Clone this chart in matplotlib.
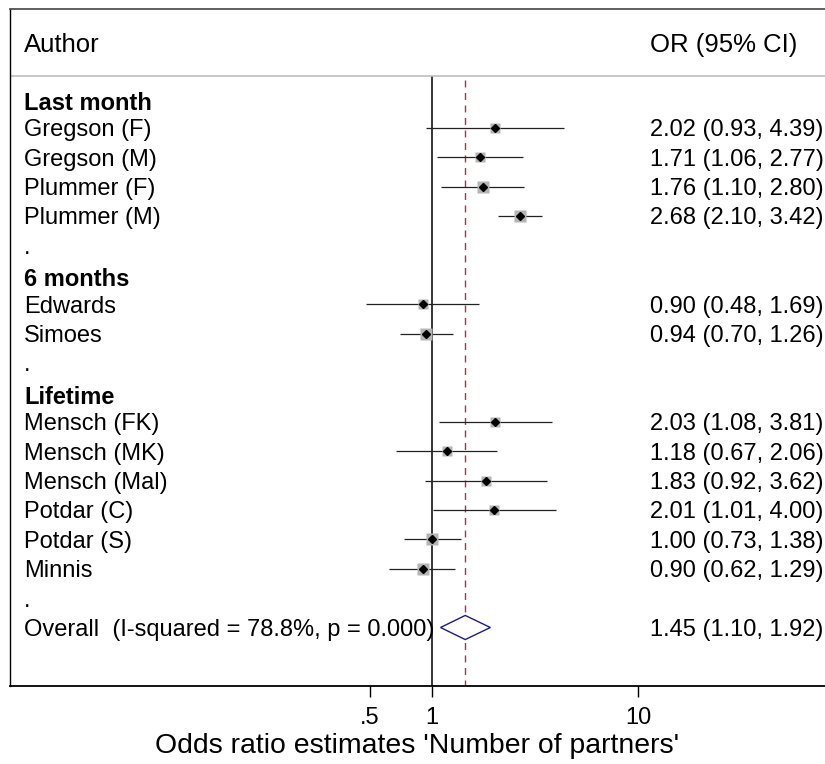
import matplotlib
matplotlib.use("Agg")
import matplotlib.pyplot as plt
import numpy as np

plt.rcParams['font.family'] = ['Liberation Sans', 'DejaVu Sans']

groups = ["Last month", "6 months", "Lifetime"]
studies = [
    ["Gregson (F)", "Gregson (M)", "Plummer (F)", "Plummer (M)"],
    ["Edwards", "Simoes"],
    ["Mensch (FK)", "Mensch (MK)", "Mensch (Mal)", "Potdar (C)", "Potdar (S)", "Minnis"],
]
odds = [2.02, 1.71, 1.76, 2.68, 0.90, 0.94, 2.03, 1.18, 1.83, 2.01, 1.00, 0.90]
ci_low = [0.93, 1.06, 1.10, 2.10, 0.48, 0.70, 1.08, 0.67, 0.92, 1.01, 0.73, 0.62]
ci_high = [4.39, 2.77, 2.80, 3.42, 1.69, 1.26, 3.81, 2.06, 3.62, 4.00, 1.38, 1.29]
weights = [6.3, 8.4, 8.9, 9.4, 7.4, 10.1, 7.4, 8.4, 7.4, 6.3, 10.6, 9.4]
overall = [1.45, 1.10, 1.92]
overall_label = "Overall  (I-squared = 78.8%, p = 0.000)"
tick_values = [0.5, 1, 10]
tick_labels = [".5", "1", "10"]
xlabel = "Odds ratio estimates 'Number of partners'"

W, H = 825, 764
fig = plt.figure(figsize=(W / 100, H / 100), dpi=100)
ax = fig.add_axes([10 / W, 1 - 686 / H, 1 - 10 / W, (686 - 9) / H])
ax.set_xscale('log')
xmin = 10 ** ((10 - 432) / 206)
xmax = 10 ** ((825 - 432) / 206)
ax.set_xlim(xmin, xmax)
ax.set_ylim(18.99, -4.04)

txt_kw = dict(fontsize=17, va='center_baseline', transform=ax.get_yaxis_transform())
xl = (24 - 10) / 815
xr = (650 - 10) / 815

# header
ax.text(xl, -2.9, "Author", fontsize=18.5, va='center_baseline', transform=ax.get_yaxis_transform())
ax.text(xr, -2.9, "OR (95% CI)", fontsize=18.5, va='center_baseline', transform=ax.get_yaxis_transform())
ax.axhline(-1.76, color='#bdbdbd', lw=1.2)

row = -1
k = 0
study_rows = []
for g, names in zip(groups, studies):
    ax.text(xl, row + 0.08, g, fontweight='bold', **txt_kw)
    row += 1
    for name in names:
        ax.text(xl, row, name, **txt_kw)
        ax.text(xr, row, f"{odds[k]:.2f} ({ci_low[k]:.2f}, {ci_high[k]:.2f})", **txt_kw)
        study_rows.append(row)
        k += 1
        row += 1
    ax.text(xl, row, ".", **txt_kw)
    row += 1

study_rows = np.array(study_rows)
ax.hlines(study_rows, ci_low, ci_high, color='#222222', lw=0.9, zorder=2)
for r, o, w in zip(study_rows, odds, weights):
    ax.plot([o], [r], marker='s', ms=0.72 * 3.75 * np.sqrt(w), color='#b4b4b4',
            mec='none', zorder=3)
ax.plot(odds, study_rows, ls='none', marker='D', ms=3.8, color='black', zorder=4)

# overall
orow = row
ax.text(xl, orow, overall_label, **txt_kw)
ax.text(xr, orow, f"{overall[0]:.2f} ({overall[1]:.2f}, {overall[2]:.2f})", **txt_kw)
h = 0.41
ax.fill([overall[1], overall[0], overall[2], overall[0], overall[1]],
        [orow, orow - h, orow, orow + h, orow],
        facecolor='white', edgecolor='#1c1c8a', lw=1.0, zorder=3)

# reference lines
ax.vlines(1, -1.76, 18.99, color='black', lw=1.1, zorder=1)
ax.vlines(overall[0], -1.62, 18.99, color='#a3364a', lw=1.0, linestyles=(0, (5, 4)), zorder=1)

ax.spines['right'].set_visible(False)
ax.spines['top'].set_color('#444444')
ax.spines['top'].set_linewidth(1.2)
ax.spines['left'].set_linewidth(1.0)
ax.spines['bottom'].set_linewidth(1.3)

ax.set_yticks([])
ax.set_xticks(tick_values)
ax.set_xticklabels(tick_labels, fontsize=17)
ax.xaxis.set_minor_locator(matplotlib.ticker.NullLocator())
ax.tick_params(axis='x', which='major', direction='out', length=8, width=1.0, pad=7,
               color='black')
ax.set_xlabel(xlabel, fontsize=20.4, labelpad=3)

fig.savefig("out.png", dpi=100)
